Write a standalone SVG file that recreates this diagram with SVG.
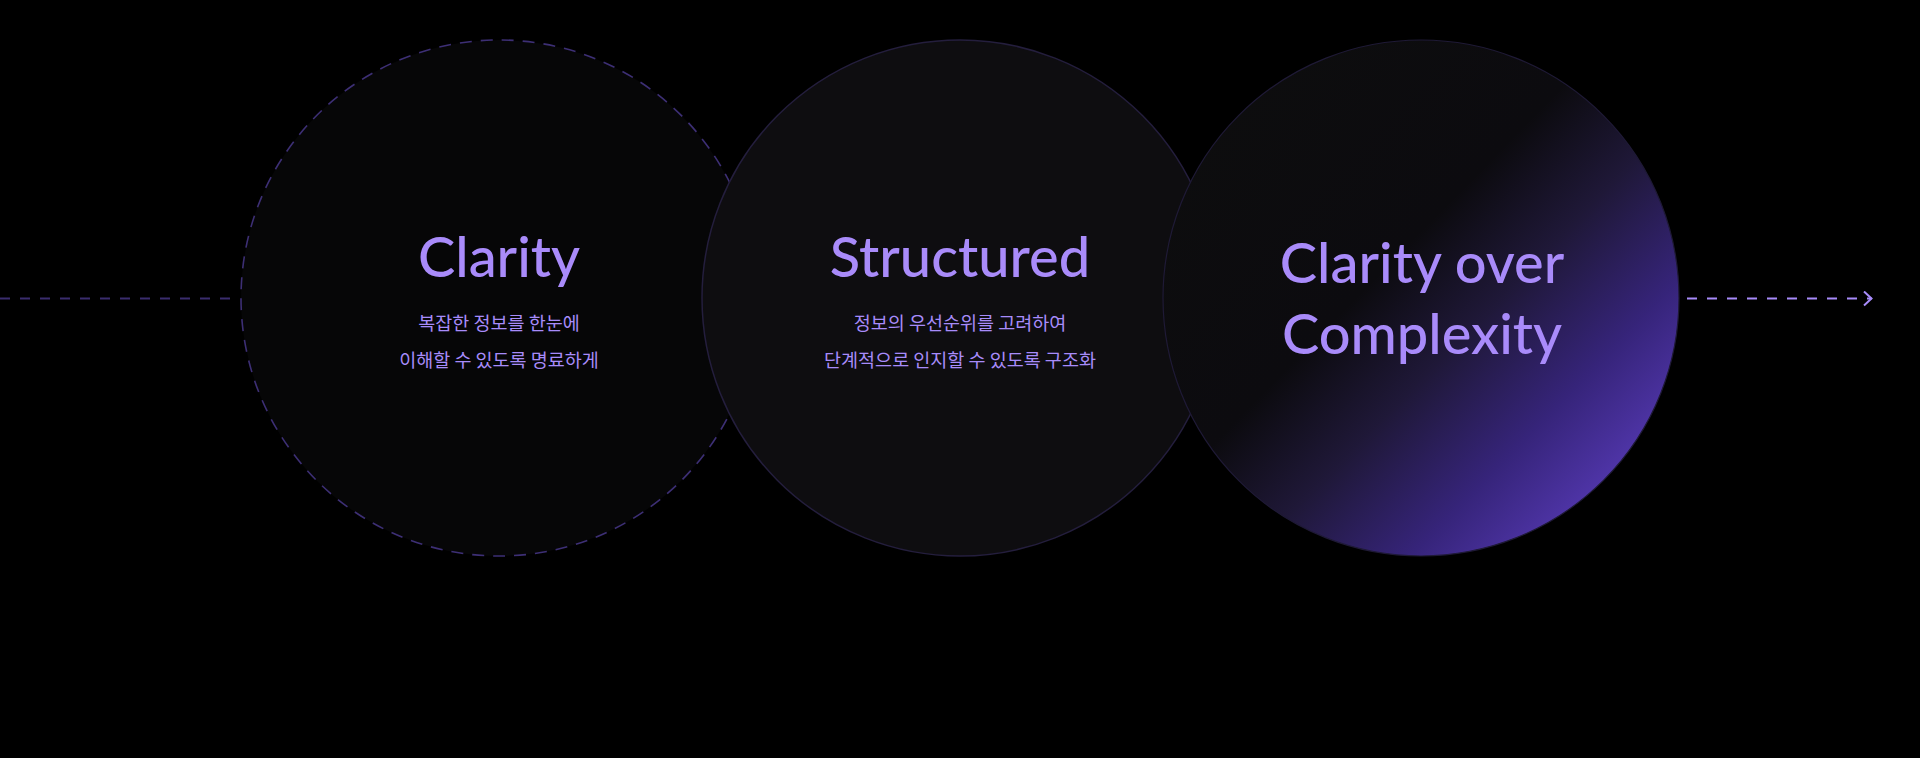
<svg xmlns="http://www.w3.org/2000/svg" width="1920" height="758" viewBox="0 0 1920 758">
  <defs>
    <style>
      .title { font-family: "Lato", "Noto Sans", sans-serif; font-size: 56px; font-weight: 500; fill: #a98bfa; text-anchor: middle; }
      .sub { font-family: "Noto Sans CJK KR", "Noto Sans", sans-serif; font-size: 18.5px; fill: #a78bfa; text-anchor: middle; }
    </style>
    <linearGradient id="g3" x1="0.12" y1="0.12" x2="0.92" y2="0.9">
      <stop offset="0" stop-color="#0d0d0e"/>
      <stop offset="0.4" stop-color="#0c0b0f"/>
      <stop offset="0.58" stop-color="#1f1838"/>
      <stop offset="0.78" stop-color="#36247a"/>
      <stop offset="1" stop-color="#5a3cbc"/>
    </linearGradient>
    <filter id="blur" x="-0.1" y="-5" width="1.2" height="11">
      <feGaussianBlur stdDeviation="2.5"/>
    </filter>
    <marker id="chev" viewBox="0 0 10 16" refX="9" refY="8" markerWidth="10" markerHeight="16" markerUnits="userSpaceOnUse" orient="auto">
      <path d="M1,1 L8.5,8 L1,15" fill="none" stroke="#a78bfa" stroke-width="2"/>
    </marker>
  </defs>
  <rect width="1920" height="758" fill="#000"/>

  <g id="connectors">
    <line x1="0" y1="298.5" x2="240" y2="298.5" stroke="#3a2d6e" stroke-width="2" stroke-dasharray="10 10"/>
    <line x1="1687" y1="298.5" x2="1872" y2="298.5" stroke="#a78bfa" stroke-width="2" stroke-dasharray="10 10" marker-end="url(#chev)"/>
  </g>

  <g id="node-clarity">
    <circle cx="499" cy="298" r="258" fill="#060607" stroke="#3d2f75" stroke-width="1.6" stroke-dasharray="12 9"/>
  </g>
  <g id="node-structured">
    <circle cx="960" cy="298" r="258" fill="#0e0d10" stroke="#241e3d" stroke-width="1.5"/>
  </g>
  <g id="node-final">
    <circle cx="1421" cy="298" r="258" fill="url(#g3)" stroke="#1f1a36" stroke-width="1.2"/>
  </g>

  <g id="glow">
    <line x1="245" y1="298.5" x2="1675" y2="298.5" stroke="#3a2a78" stroke-width="5" stroke-dasharray="10 10" opacity="0.5" filter="url(#blur)"/>
  </g>

  <g id="labels-clarity">
    <text class="title" x="499" y="277">Clarity</text>
    <text class="sub" x="499" y="330">복잡한 정보를 한눈에</text>
    <text class="sub" x="499" y="367">이해할 수 있도록 명료하게</text>
  </g>
  <g id="labels-structured">
    <text class="title" x="960" y="277">Structured</text>
    <text class="sub" x="960" y="330">정보의 우선순위를 고려하여</text>
    <text class="sub" x="960" y="367">단계적으로 인지할 수 있도록 구조화</text>
  </g>
  <g id="labels-final">
    <text class="title" x="1422" y="283">Clarity over</text>
    <text class="title" x="1422" y="354">Complexity</text>
  </g>
</svg>
